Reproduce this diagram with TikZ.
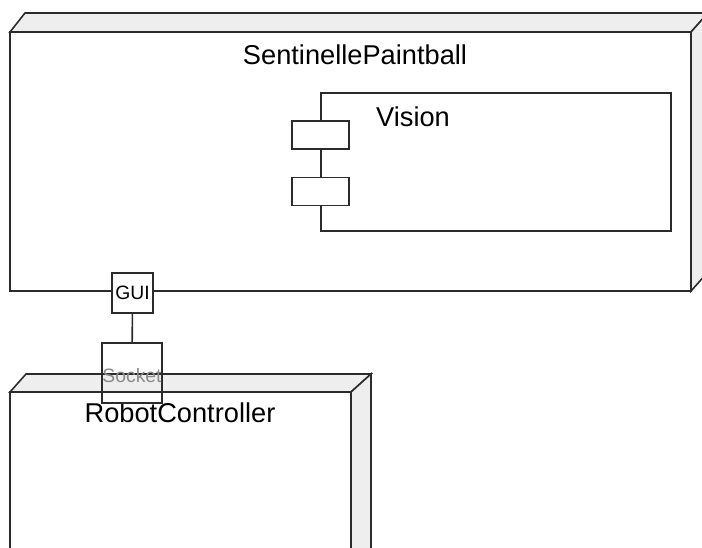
\documentclass[tikz,border=0pt]{standalone}
\usepackage{fontspec}
\setmainfont{Liberation Sans}
\usepackage{xcolor}
\usepackage{tikz}
\definecolor{faceGray}{HTML}{EEEEEE}
\definecolor{edgeGray}{HTML}{2B2B2B}
\definecolor{portText}{HTML}{8A8A8A}

\begin{document}
\begin{tikzpicture}[x=0.02cm, y=-0.02cm,
  edge/.style={draw=edgeGray, line width=0.9pt, line join=miter},
  side/.style={edge, fill=faceGray},
  front/.style={edge, fill=white},
  port/.style={edge, fill=white, inner sep=0pt, minimum width=1.14cm, minimum height=0.56cm},
  title/.style={font=\fontsize{15.5}{18}\selectfont, text=black}]
  \useasboundingbox (0,0) rectangle (702,547);
  \clip (0,0) rectangle (702,547);

  % SentinellePaintball node
  \filldraw[side] (10,32) -- (25,13) -- (708,13) -- (691,32) -- cycle;
  \filldraw[side] (691,32) -- (708,13) -- (708,272) -- (691,291) -- cycle;
  \filldraw[front] (10,32) rectangle (691,291);
  \node[title] (sentinelle) at (355,55) {SentinellePaintball};

  % Vision component
  \filldraw[front] (321,93) rectangle (671,231);
  \node[title, anchor=west] (vision) at (370,117) {Vision};
  \node[port] (visionA) at (320.5,135) {};
  \node[port] (visionB) at (320.5,191.5) {};

  % RobotController node
  \filldraw[side] (10,392) -- (26,374) -- (371,374) -- (351,392) -- cycle;
  \filldraw[side] (351,392) -- (371,374) -- (371,560) -- (351,578) -- cycle;
  \filldraw[front] (10,392) rectangle (351,578);
  \node[title] (robot) at (180,413) {RobotController};

  % ports and link
  \node[port, minimum width=0.82cm, minimum height=0.8cm, font=\fontsize{11}{13}\selectfont] (gui) at (132.5,293) {GUI};
  \node[edge, inner sep=0pt, minimum width=1.2cm, minimum height=1.2cm, text depth=0pt,
        font=\fontsize{11}{13}\selectfont, text=portText] (socket) at (132,373) {\raisebox{-0.1cm}{Socket}};
  \draw[edge] (gui) -- (socket);
\end{tikzpicture}
\end{document}
